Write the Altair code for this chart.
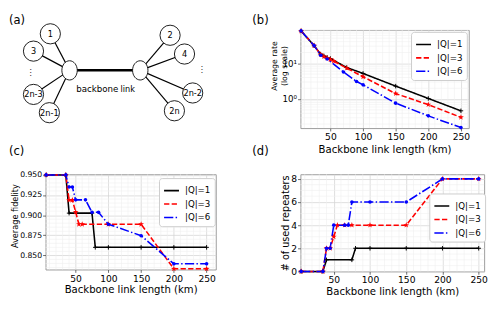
import altair as alt
import pandas as pd

FONT = "DejaVu Sans"
SERIES = ["|Q|=1", "|Q|=3", "|Q|=6"]
COLORS = ["#000000", "#ff0000", "#0000ff"]
DASHES = [[1, 0], [5.5, 2.4], [9.6, 2.4, 1.5, 2.4]]
X_TICKS = [50, 100, 150, 200, 250]
X_TITLE = "Backbone link length (km)"
MINOR_X = [10, 20, 30, 40, 60, 70, 80, 90, 110, 120, 130, 140, 160, 170, 180, 190,
           210, 220, 230, 240, 260]

# ---- (b) average rate (log scale)
b_q1_x = [5, 25, 35, 40, 45, 50, 75, 100, 150, 200, 250]
b_q1_y = [80, 31, 18, 16, 14.5, 13.5, 7.6, 5.2, 2.3, 1.04, 0.47]
b_q3_x = [5, 25, 35, 40, 45, 50, 55, 75, 100, 150, 200, 250]
b_q3_y = [80, 31, 17.5, 15.5, 14, 12.8, 11.5, 7.3, 4.2, 1.42, 0.70, 0.31]
b_q6_x = [5, 25, 35, 45, 70, 90, 100, 150, 200, 250]
b_q6_y = [80, 31, 16.8, 13.1, 5.7, 3.1, 2.5, 0.77, 0.34, 0.16]
b_minor_y = [0.2, 0.3, 0.4, 0.5, 0.6, 0.7, 0.8, 0.9, 2, 3, 4, 5, 6, 7, 8, 9,
             20, 30, 40, 50, 60, 70, 80]

# ---- (c) average fidelity
c_q1_x = [5, 35, 40, 75, 80, 100, 150, 200, 250]
c_q1_y = [0.95, 0.95, 0.9025, 0.9025, 0.86, 0.86, 0.86, 0.86, 0.86]
c_q3_x = [5, 35, 40, 45, 50, 55, 60, 100, 150, 200, 250]
c_q3_y = [0.95, 0.95, 0.9187, 0.9187, 0.904, 0.8887, 0.8887, 0.8887, 0.8887, 0.8333, 0.8333]
c_q6_x = [5, 35, 40, 45, 50, 65, 75, 85, 100, 150, 200, 250]
c_q6_y = [0.95, 0.95, 0.935, 0.935, 0.919, 0.919, 0.9035, 0.9035, 0.8887, 0.8745, 0.8395, 0.8395]
c_minor_y = [0.835, 0.84, 0.845, 0.855, 0.86, 0.865, 0.87, 0.88, 0.885, 0.89, 0.895,
             0.905, 0.91, 0.915, 0.92, 0.93, 0.935, 0.94, 0.945]

# ---- (d) number of used repeaters
d_q1_x = [5, 35, 40, 75, 80, 100, 150, 200, 250]
d_q1_y = [0, 0, 1, 1, 2, 2, 2, 2, 2]
d_q3_x = [5, 35, 40, 45, 50, 55, 65, 75, 100, 150, 200, 250]
d_q3_y = [0, 0, 2, 2, 3, 4, 4, 4, 4, 4, 8, 8]
d_q6_x = [5, 35, 40, 45, 50, 65, 70, 75, 100, 150, 200, 250]
d_q6_y = [0, 0, 2, 2, 4, 4, 4, 6, 6, 6, 8, 8]
d_minor_y = [0.5, 1, 1.5, 2.5, 3, 3.5, 4.5, 5, 5.5, 6.5, 7, 7.5]

# ---- (a) network diagram (layout coordinates)
LEAF_LABELS = ["1", "3", "2n-3", "2n-1", "2", "4", "2n-2", "2n"]
LEAF_X = [51, 33.5, 33.5, 50, 175.5, 190.5, 199, 180]
LEAF_Y = [27, 45, 90, 109, 28.5, 48, 88.5, 107]
LEAF_HUB = [0, 0, 0, 0, 1, 1, 1, 1]
HUB_X = [71, 144.5]
HUB_Y = [65, 65]
DOTS_X = [30.5, 208.5]
DOTS_Y = [66.5, 63.5]
PANEL_LABELS = ["(a)", "(b)", "(c)", "(d)"]
PANEL_X = [8, 261, 8, 261]
PANEL_Y = [8, 8, 144, 144]

dxs = alt.Scale(domain=[46, 239], nice=False, zero=False)
dys = alt.Scale(domain=[23, 125], nice=False, zero=False, reverse=True)
DX = lambda f: alt.X(f, scale=dxs, axis=None)
DY = lambda f: alt.Y(f, scale=dys, axis=None)

edges = pd.DataFrame({
    "x1": LEAF_X, "y1": LEAF_Y,
    "x2": [HUB_X[h] for h in LEAF_HUB], "y2": [HUB_Y[h] for h in LEAF_HUB],
})
edge_layer = alt.Chart(edges).mark_rule(color="black", strokeWidth=1.2).encode(
    x=DX("x1:Q"), y=DY("y1:Q"), x2="x2:Q", y2="y2:Q")
bb = pd.DataFrame({"x1": [HUB_X[0]], "y1": [HUB_Y[0]], "x2": [HUB_X[1]], "y2": [HUB_Y[1]]})
bb_layer = alt.Chart(bb).mark_rule(color="black", strokeWidth=2.6).encode(
    x=DX("x1:Q"), y=DY("y1:Q"), x2="x2:Q", y2="y2:Q")
leaves = pd.DataFrame({"x": LEAF_X, "y": LEAF_Y, "label": LEAF_LABELS})
leaf_layer = alt.Chart(leaves).mark_point(
    shape="circle", size=441, filled=True, color="white", stroke="black",
    strokeWidth=0.9, opacity=1).encode(x=DX("x:Q"), y=DY("y:Q"))
leaf_text = alt.Chart(leaves).mark_text(font=FONT, fontSize=8.5, color="black").encode(
    x=DX("x:Q"), y=DY("y:Q"), text="label:N")
hubs = pd.DataFrame({"x": HUB_X, "y": HUB_Y})
hub_layer = alt.Chart(hubs).mark_point(
    shape="M-0.8,0A0.8,1,0,1,0,0.8,0A0.8,1,0,1,0,-0.8,0Z", size=400, filled=True,
    color="white", stroke="black", strokeWidth=0.9, opacity=1).encode(x=DX("x:Q"), y=DY("y:Q"))
dots = pd.DataFrame({"x": DOTS_X, "y": DOTS_Y, "t": ["\u22ee", "\u22ee"]})
dots_layer = alt.Chart(dots).mark_text(font=FONT, fontSize=9, color="#333333").encode(
    x=DX("x:Q"), y=DY("y:Q"), text="t:N")
bbt = pd.DataFrame({"x": [78, 124], "y": [87.5, 87.5], "t": ["backbone", "link"]})
bbt1 = alt.Chart(bbt.iloc[:1]).mark_text(font=FONT, fontSize=9, align="left",
                                        baseline="alphabetic", color="black").encode(
    x=DX("x:Q"), y=DY("y:Q"), text="t:N")
bbt2 = alt.Chart(bbt.iloc[1:]).mark_text(font=FONT, fontSize=8.5, align="left",
                                        baseline="alphabetic", color="black").encode(
    x=DX("x:Q"), y=DY("y:Q"), text="t:N")
pl = pd.DataFrame({"x": PANEL_X, "y": PANEL_Y, "t": PANEL_LABELS})
pl_layer = alt.Chart(pl).mark_text(font=FONT, fontSize=12, align="left", baseline="top",
                                   color="black").encode(x=DX("x:Q"), y=DY("y:Q"), text="t:N")

diagram = alt.layer(edge_layer, bb_layer, leaf_layer, hub_layer, leaf_text, dots_layer,
                    bbt1, bbt2, pl_layer).properties(
    width=193, height=102, view=alt.ViewBackground(stroke="transparent"))

MARKERS = [
    dict(shape="M-1,0L1,0M0,-1L0,1", size=22, filled=False, strokeWidth=1),
    dict(shape="M0,-1L0.24,-0.33L0.95,-0.31L0.38,0.12L0.59,0.81L0,0.4L-0.59,0.81L-0.38,0.12L-0.95,-0.31L-0.24,-0.33Z",
         size=40, filled=True),
    dict(shape="circle", size=14, filled=True),
]


def panel(xs, ys, xdom, ydom, ytype, yaxis, width, height, legend_xy, minor_y, xtitle_y):
    rows = []
    for s, xl, yl in zip(SERIES, xs, ys):
        for xv, yv in zip(xl, yl):
            rows.append({"series": s, "x": xv, "y": yv})
    df = pd.DataFrame(rows)
    xsc = alt.Scale(domain=xdom, nice=False, zero=False)
    if ytype == "log":
        ysc = alt.Scale(type="log", domain=ydom, nice=False)
    else:
        ysc = alt.Scale(domain=ydom, nice=False, zero=False)
    xaxis = alt.Axis(values=X_TICKS, title=X_TITLE, titleY=xtitle_y, titleFontSize=10.5,
                     grid=True)
    X = lambda f: alt.X(f, scale=xsc, axis=xaxis)
    Y = lambda f: alt.Y(f, scale=ysc, axis=yaxis)
    gx = alt.Chart(pd.DataFrame({"x": [v for v in MINOR_X if v < xdom[1]]})).mark_rule(
        color="#efefef", strokeWidth=0.6).encode(x=X("x:Q"))
    gy = alt.Chart(pd.DataFrame({"y": minor_y})).mark_rule(
        color="#efefef", strokeWidth=0.6).encode(y=Y("y:Q"))
    leg = alt.Legend(title=None, orient="none", legendX=legend_xy[0], legendY=legend_xy[1],
                     symbolType="stroke", symbolSize=240, symbolStrokeWidth=1.6,
                     labelFont=FONT, labelFontSize=9, labelOffset=5, labelColor="black",
                     padding=4, rowPadding=0, fillColor="white", strokeColor="#cccccc",
                     cornerRadius=3)
    lines = alt.Chart(df).mark_line(strokeWidth=1.6).encode(
        x=X("x:Q"), y=Y("y:Q"),
        color=alt.Color("series:N", scale=alt.Scale(domain=SERIES, range=COLORS), legend=leg),
        strokeDash=alt.StrokeDash("series:N", scale=alt.Scale(domain=SERIES, range=DASHES),
                                  legend=leg),
    )
    layers = [gx, gy, lines]
    for s, col, mk in zip(SERIES, COLORS, MARKERS):
        layers.append(
            alt.Chart(df).transform_filter(alt.datum.series == s).mark_point(
                color=col, opacity=1, **mk).encode(x=X("x:Q"), y=Y("y:Q")))
    return alt.layer(*layers).properties(width=width, height=height)


b_axis = alt.Axis(values=[1, 10], labelExpr="datum.value == 1 ? '10\u2070' : '10\u00b9'",
                  title=["Average rate", "(log scale)"], titleFontSize=8, titleX=-22.5,
                  titleY=37, titleLineHeight=10.5, labelFontSize=9, grid=True)
c_axis = alt.Axis(values=[0.85, 0.875, 0.9, 0.925, 0.95], format=".3f",
                  title="Average fidelity", titleFontSize=8.5, titleX=-27.5, titleY=43,
                  labelFontSize=8, grid=True)
d_axis = alt.Axis(values=[0, 2, 4, 6, 8], title="# of used repeaters", titleFontSize=10,
                  titleX=-10, titleY=50.5, grid=True)

pb = panel([b_q1_x, b_q3_x, b_q6_x], [b_q1_y, b_q3_y, b_q6_y], [4, 262], [0.155, 85], "log",
           b_axis, 175, 102, (115, 2), b_minor_y, 17.5)
pc = panel([c_q1_x, c_q3_x, c_q6_x], [c_q1_y, c_q3_y, c_q6_y], [4, 264], [0.8325, 0.9508],
           "linear", c_axis, 177, 99, (118, 4), c_minor_y, 15.5)
pd_ = panel([d_q1_x, d_q3_x, d_q6_x], [d_q1_y, d_q3_y, d_q6_y], [4, 257.5], [0, 8.4],
            "linear", d_axis, 191, 101, (134, 20), d_minor_y, 16)

chart = alt.concat(diagram, pb, pc, pd_, columns=2, spacing={"row": 48, "column": 72},
                   bounds="flush", align="none").resolve_scale(
    x="independent", y="independent", color="independent", strokeDash="independent"
).resolve_legend(color="independent", strokeDash="independent").resolve_axis(
    x="independent", y="independent").properties(padding=0).configure_view(
    stroke="#9a9a9a", strokeWidth=1).configure_axis(
    labelFont=FONT, titleFont=FONT, labelFontSize=9.5, labelColor="black",
    titleColor="black", titleFontWeight="normal", tickColor="#444444", tickSize=3,
    tickWidth=0.8, labelPadding=1, domain=False, gridColor="#d6d6d6", gridWidth=0.8)

chart.save("out.html", embed_options={"renderer": "svg", "actions": False})
